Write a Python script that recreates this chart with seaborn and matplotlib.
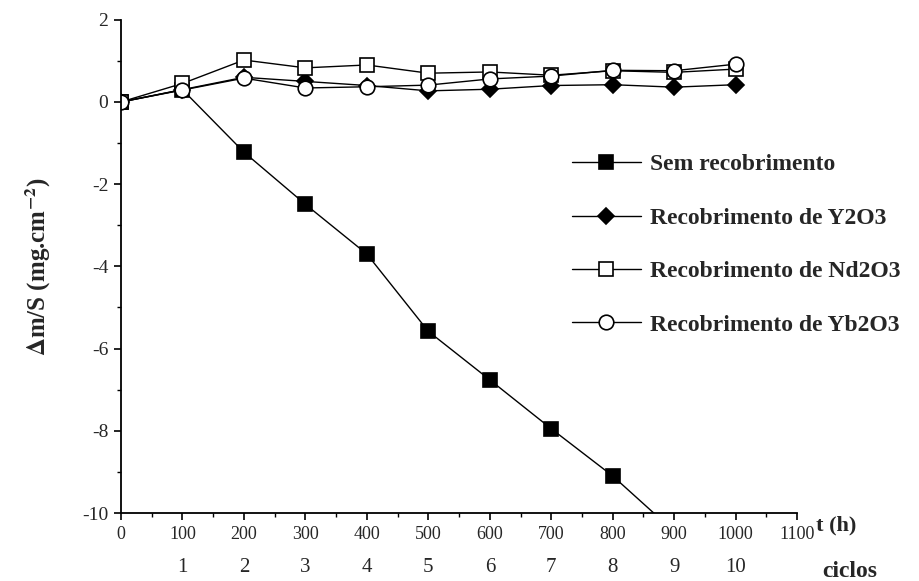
import matplotlib
matplotlib.use("Agg")
import matplotlib.pyplot as plt
import seaborn as sns
import pandas as pd
from matplotlib.ticker import MultipleLocator
from matplotlib.lines import Line2D

t_h = [0, 100, 200, 300, 400, 500, 600, 700, 800, 900, 1000]
sem_t = [0, 100, 200, 300, 400, 500, 600, 700, 800, 900]
sem_recob = [0.0, 0.3, -1.22, -2.49, -3.7, -5.58, -6.76, -7.95, -9.1, -10.45]
y2o3 = [0.0, 0.3, 0.6, 0.5, 0.4, 0.27, 0.31, 0.4, 0.42, 0.36, 0.42]
nd2o3 = [0.0, 0.45, 1.02, 0.83, 0.9, 0.7, 0.73, 0.65, 0.76, 0.72, 0.8]
yb2o3 = [0.0, 0.29, 0.58, 0.34, 0.37, 0.41, 0.56, 0.63, 0.77, 0.76, 0.92]
labels = ["Sem recobrimento", "Recobrimento de Y2O3", "Recobrimento de Nd2O3",
          "Recobrimento de Yb2O3"]
cycles = ["1", "2", "3", "4", "5", "6", "7", "8", "9", "10"]
cycle_pos = [100, 200, 300, 400, 500, 600, 700, 800, 900, 1000]

sns.set_theme(style="ticks")
plt.rcParams['font.family'] = ['Liberation Serif', 'DejaVu Serif']
plt.rcParams['mathtext.fontset'] = 'stix'
plt.rcParams['axes.unicode_minus'] = False

fig = plt.figure(figsize=(9.2, 5.81), dpi=100)
ax = fig.add_axes([0.1315, 0.117, 0.735, 0.849])

series = [
    (sem_t, sem_recob, dict(marker="s", markerfacecolor="black")),
    (t_h, y2o3, dict(marker="D", markerfacecolor="black", markersize=8.5)),
    (t_h, nd2o3, dict(marker="s", markerfacecolor="white")),
    (t_h, yb2o3, dict(marker="o", markerfacecolor="white")),
]
handles = []
for (x, y, kw), lab in zip(series, labels):
    df = pd.DataFrame({"t": x, "v": y})
    opts = dict(markersize=10.5, markeredgecolor="black", markeredgewidth=1.2)
    opts.update(kw)
    sns.lineplot(data=df, x="t", y="v", ax=ax, color="black", linewidth=1.0,
                 **opts)
    handles.append(Line2D([], [], color="black", linewidth=1.0, **opts))

ax.set_xlim(0, 1100)
ax.set_ylim(-10, 2)
ax.xaxis.set_major_locator(MultipleLocator(100))
ax.xaxis.set_minor_locator(MultipleLocator(50))
ax.yaxis.set_major_locator(MultipleLocator(2))
ax.yaxis.set_minor_locator(MultipleLocator(1))
ax.tick_params(which="major", direction="out", length=5, width=1.2,
               labelsize=14, color="black", pad=4)
ax.tick_params(axis="x", which="major", labelsize=13)
ax.tick_params(which="minor", direction="out", length=3, width=1.0,
               color="black")
for s in ["top", "right"]:
    ax.spines[s].set_visible(False)
for s in ["left", "bottom"]:
    ax.spines[s].set_linewidth(1.3)
    ax.spines[s].set_color("black")

ax.set_xlabel("")
ax.set_ylabel(r"$\mathbf{\Delta}$m/S (mg.cm$^{\mathbf{-2}}$)", fontsize=18,
              fontweight="bold")
ax.yaxis.set_label_coords(-0.1, 0.5)

trans = ax.get_xaxis_transform()
for p, c in zip(cycle_pos, cycles):
    ax.text(p, -0.11, c, transform=trans, ha="center", va="center",
            fontsize=15)
ax.text(1130, -0.025, "t (h)", transform=trans, ha="left", va="center",
        fontsize=16, fontweight="bold")
ax.text(1140, -0.118, "ciclos", transform=trans, ha="left", va="center",
        fontsize=17, fontweight="bold")

leg = fig.legend(handles, labels, loc="upper left",
                 bbox_to_anchor=(0.622, 0.735), frameon=False,
                 prop={"weight": "bold", "size": 17, "family": "Liberation Serif"},
                 handlelength=2.9, labelspacing=1.35, handletextpad=0.4,
                 borderaxespad=0, borderpad=0)

fig.savefig("out.png", dpi=100)
